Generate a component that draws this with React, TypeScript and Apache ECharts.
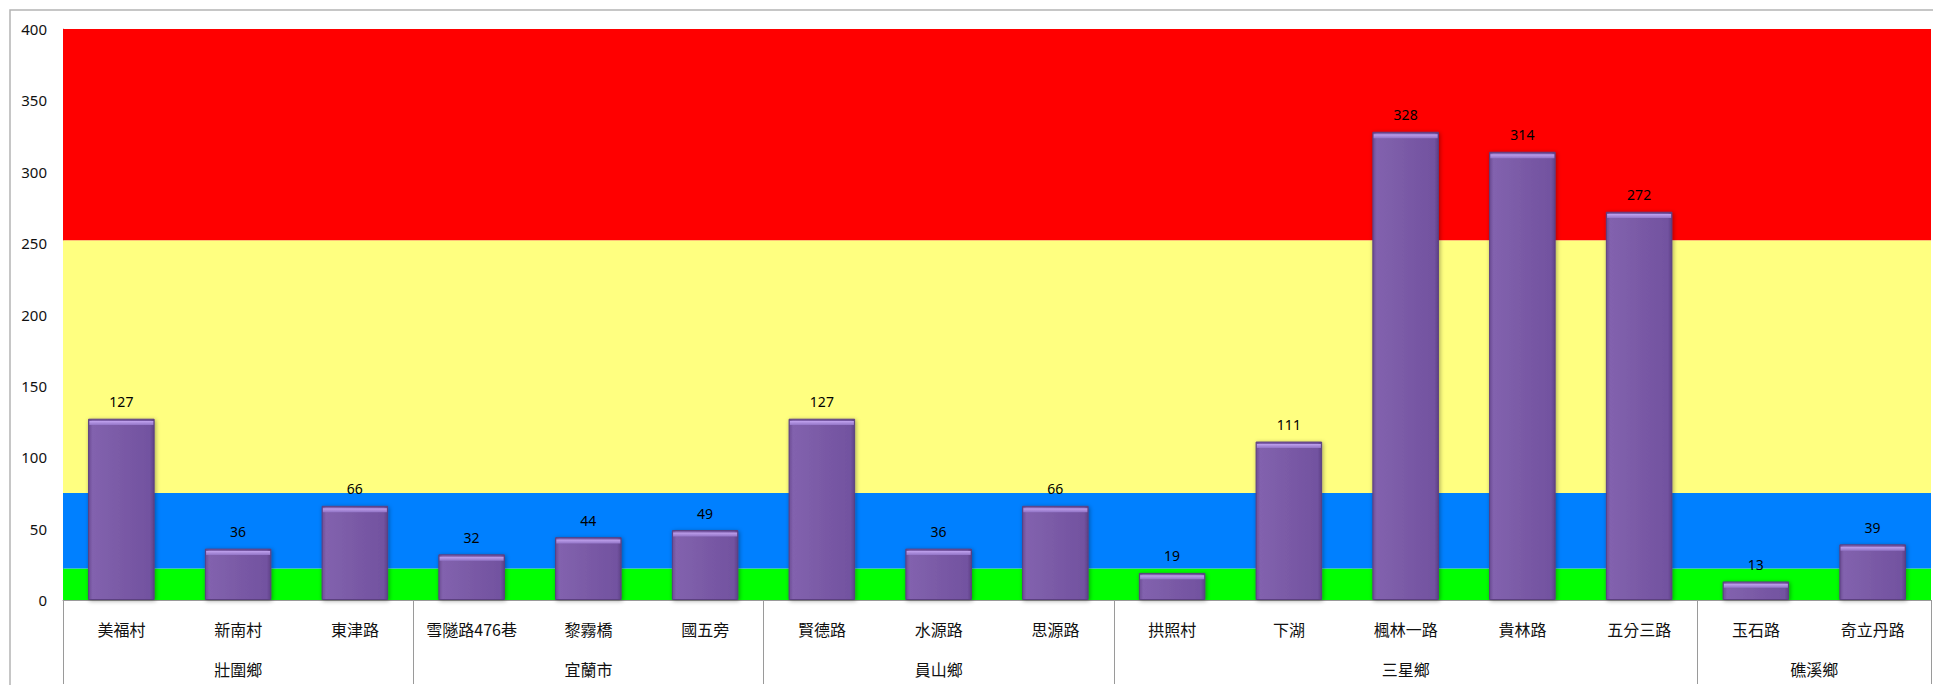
import React, { useEffect, useRef } from "react";
import * as echarts from "echarts";

const categories = [
  "美福村", "新南村", "東津路",
  "雪隧路476巷", "黎霧橋", "國五旁",
  "賢德路", "水源路", "思源路",
  "拱照村", "下湖", "楓林一路", "貴林路", "五分三路",
  "玉石路", "奇立丹路",
];
const values = [127, 36, 66, 32, 44, 49, 127, 36, 66, 19, 111, 328, 314, 272, 13, 39];
const groupNames = ["壯圍鄉", "宜蘭市", "員山鄉", "三星鄉", "礁溪鄉"];
const groupSizes = [3, 3, 3, 5, 2];
const bandLimits = [0, 22, 75, 252, 400];
const bandColors = ["#00FF00", "#0080FF", "#FFFF80", "#FF0000"];
const yTicks = [0, 50, 100, 150, 200, 250, 300, 350, 400];

export default function App() {
  const ref = useRef<HTMLDivElement>(null);
  useEffect(() => {
    document.body.style.margin = "0";
    if (!ref.current) return;
    const chart = echarts.init(ref.current, null, { renderer: "svg" });

    const boundaries: number[] = [0];
    const centers: number[] = [];
    let acc = 0;
    groupSizes.forEach((n) => {
      centers.push(acc + n / 2);
      acc += n;
      boundaries.push(acc);
    });
    const centerName = (v: number) => {
      const i = centers.findIndex((c) => Math.abs(c - v) < 1e-6);
      return i >= 0 ? groupNames[i] : "";
    };

    const bands = bandColors.map((c, i) => [
      { yAxis: bandLimits[i], itemStyle: { color: c } },
      { yAxis: bandLimits[i + 1] },
    ]);

    chart.setOption({
      animation: false,
      backgroundColor: "#ffffff",
      grid: { left: 63, top: 29, right: 2, bottom: 85, containLabel: false },
      graphic: [
        {
          type: "rect",
          z: -10,
          shape: { x: 10, y: 10, width: 1960, height: 720 },
          style: { fill: "none", stroke: "#b4b4b4", lineWidth: 1.5 },
          silent: true,
        },
      ],
      xAxis: [
        {
          type: "category",
          data: categories,
          position: "bottom",
          axisLine: { show: true, lineStyle: { color: "#9a9a9a", width: 1 } },
          axisTick: { show: false },
          axisLabel: {
            interval: 0,
            margin: 21,
            fontSize: 16,
            color: "#111",
            fontFamily: "Noto Sans CJK TC",
          },
          splitLine: { show: false },
        },
        {
          type: "value",
          min: 0,
          max: categories.length,
          position: "bottom",
          axisLine: { show: false },
          splitLine: { show: false },
          axisTick: {
            show: true,
            customValues: boundaries,
            length: 84,
            lineStyle: { color: "#9a9a9a", width: 1 },
          },
          axisLabel: {
            customValues: centers,
            formatter: (v: number) => centerName(v),
            margin: 61,
            fontSize: 16,
            color: "#111",
            fontFamily: "Noto Sans CJK TC",
          },
        },
      ],
      yAxis: {
        type: "value",
        min: yTicks[0],
        max: yTicks[yTicks.length - 1],
        interval: 50,
        axisLine: { show: true, lineStyle: { color: "#a8a8a8", width: 1 } },
        axisTick: { show: false },
        splitLine: { show: false },
        axisLabel: {
          margin: 16,
          fontSize: 15,
          color: "#111",
          fontFamily: "Noto Sans",
        },
      },
      series: [
        {
          type: "bar",
          xAxisIndex: 0,
          data: values,
          barCategoryGap: "43%",
          z: 2,
          itemStyle: {
            color: new echarts.graphic.LinearGradient(0, 0, 1, 0, [
              { offset: 0, color: "#6c4c94" },
              { offset: 0.06, color: "#8262ae" },
              { offset: 0.5, color: "#7a5aa6" },
              { offset: 0.94, color: "#7252a0" },
              { offset: 1, color: "#5e4286" },
            ]),
            borderColor: "#5b3f80",
            borderWidth: 1,
            shadowColor: "rgba(0,0,0,0.35)",
            shadowBlur: 4,
            shadowOffsetX: 1,
            shadowOffsetY: 1,
          },
          label: {
            show: true,
            position: "top",
            distance: 10,
            fontSize: 14,
            color: "#000",
            fontFamily: "Noto Sans",
          },
          markArea: {
            silent: true,
            z: 1,
            data: bands,
          },
        },
        {
          type: "pictorialBar",
          xAxisIndex: 0,
          data: values,
          barCategoryGap: "43%",
          z: 3,
          silent: true,
          symbol: "rect",
          symbolRepeat: false,
          symbolPosition: "end",
          symbolSize: ["96%", 4],
          symbolOffset: [0, "60%"],
          itemStyle: {
            color: new echarts.graphic.LinearGradient(0, 0, 0, 1, [
              { offset: 0, color: "#c0a2ee" },
              { offset: 1, color: "#9274c6" },
            ]),
          },
          label: { show: false },
        },
      ],
    });
    return () => chart.dispose();
  }, []);
  return <div ref={ref} style={{ width: 1933, height: 685 }} />;
}
